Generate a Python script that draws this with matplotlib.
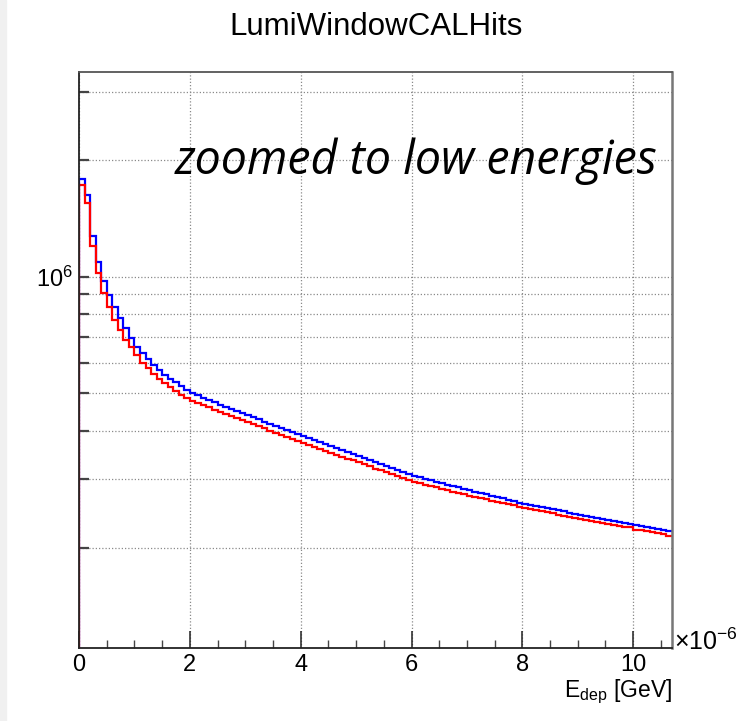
import numpy as np
import matplotlib
matplotlib.use('Agg')
import matplotlib.pyplot as plt
from matplotlib.ticker import FixedLocator, MultipleLocator, FuncFormatter, NullFormatter
from matplotlib.patches import Rectangle

plt.rcParams['font.family'] = ['Liberation Sans', 'DejaVu Sans']
plt.rcParams['mathtext.fontset'] = 'custom'
plt.rcParams['mathtext.rm'] = 'Liberation Sans'
plt.rcParams['mathtext.it'] = 'Liberation Sans:italic'

# histogram settings: 0.1e-6 GeV bins, shown up to 10.7e-6 GeV
bin_width = 0.1e-6
x_max = 10.7e-6

# hit counts per bin
blue_counts = [
    1790e3, 1620e3, 1275e3, 1093e3, 975e3, 896e3, 834e3, 784e3, 738e3, 694e3,
    660e3, 634e3, 612e3, 592e3, 574e3, 559e3, 546e3, 534e3, 522e3, 511e3,
    501e3, 494e3, 487e3, 480e3, 474e3, 468e3, 462e3, 456e3, 451e3, 445e3,
    440e3, 434e3, 429e3, 423e3, 418e3, 413e3, 408e3, 403e3, 398e3, 393e3,
    388e3, 383e3, 379e3, 374e3, 370e3, 366e3, 361e3, 357e3, 353e3, 349e3,
    345e3, 341e3, 337e3, 333e3, 329e3, 325e3, 321e3, 317e3, 313.5e3, 310e3,
    306e3, 303.5e3, 301e3, 298.5e3, 296e3, 293.5e3, 291e3, 288.5e3, 286e3, 283.5e3,
    281e3, 279e3, 276.5e3, 274.5e3, 272e3, 270e3, 268e3, 265.5e3, 263.5e3, 261e3,
    259e3, 257.5e3, 256e3, 254e3, 252.5e3, 251e3, 249.5e3, 248e3, 246e3, 244.5e3,
    243e3, 241.5e3, 240e3, 239e3, 237.5e3, 236e3, 234.5e3, 233e3, 231.5e3, 230e3,
    229e3, 227.5e3, 226e3, 225e3, 224e3, 222.5e3, 221e3,
]
red_counts = [
    1725e3, 1550e3, 1200e3, 1025e3, 907e3, 835e3, 773e3, 729e3, 688e3, 660e3,
    628e3, 600e3, 580e3, 562e3, 545e3, 532e3, 519e3, 507e3, 496e3, 487e3,
    479e3, 472e3, 466e3, 460e3, 454e3, 448e3, 442e3, 437e3, 432e3, 426e3,
    421e3, 416e3, 411e3, 406e3, 401e3, 396e3, 391e3, 386e3, 382e3, 377e3,
    372e3, 368e3, 364e3, 360e3, 356e3, 351e3, 347e3, 343e3, 339e3, 336e3,
    332e3, 328e3, 324e3, 320e3, 317e3, 313e3, 309e3, 306e3, 302e3, 299e3,
    296e3, 293.5e3, 291e3, 288.5e3, 286e3, 284e3, 281.5e3, 279e3, 277e3, 274.5e3,
    272.5e3, 270.5e3, 268.5e3, 266.5e3, 264.5e3, 262.5e3, 260.5e3, 258.5e3, 257e3, 255e3,
    253e3, 251.5e3, 250e3, 248e3, 246.5e3, 246e3, 243.5e3, 241.5e3, 240e3, 238.5e3,
    237e3, 235.5e3, 234e3, 233e3, 231.5e3, 230e3, 229e3, 227.5e3, 226.5e3, 225.5e3,
    222.5e3, 222e3, 221e3, 219.5e3, 218e3, 216.5e3, 214.5e3,
]

edges = np.arange(len(blue_counts) + 1) * bin_width
y_min, y_max = 1.102e5, 3.373e6

fig = plt.figure(figsize=(7.43, 7.21), dpi=100)
fig.patches.append(Rectangle((0, 0), 6 / 743, 1, transform=fig.transFigure,
                             color='#f0f0f0', zorder=0))
ax = fig.add_axes([79 / 743, 73 / 721, 593 / 743, 576 / 721])

ax.stairs(blue_counts, edges, baseline=None, color='#0000ff', lw=1.6)
ax.stairs(red_counts, edges, baseline=None, color='#ff0000', lw=1.6)
# left edge of the histograms (ROOT draws it down to the frame)
ax.plot([edges[0], edges[0]], [y_min, blue_counts[0]], color='#0000ff', lw=1.6)
ax.plot([edges[0], edges[0]], [y_min, red_counts[0]], color='#ff0000', lw=1.6)

ax.set_yscale('log')
ax.set_xlim(0, x_max)
ax.set_ylim(y_min, y_max)

# x axis in units of 1e-6
ax.xaxis.set_major_locator(MultipleLocator(2e-6))
ax.xaxis.set_minor_locator(MultipleLocator(0.5e-6))
ax.xaxis.set_major_formatter(FuncFormatter(lambda v, p: f'{v * 1e6:.0f}'))
ax.tick_params(axis='x', which='major', direction='in', length=12, width=1.1,
               labelsize=17, pad=4, color='#222222', top=False)
ax.tick_params(axis='x', which='minor', direction='in', length=6, width=1.0,
               color='#444444', top=False)

# y axis: ticks at 2..9e5, 1e6, 2e6, 3e6, only 10^6 labelled
y_ticks = [2e5, 3e5, 4e5, 5e5, 6e5, 7e5, 8e5, 9e5, 1e6, 2e6, 3e6]
ax.yaxis.set_major_locator(FixedLocator(y_ticks))
ax.yaxis.set_minor_formatter(NullFormatter())
ax.yaxis.set_major_formatter(FuncFormatter(
    lambda v, p: r'$\mathregular{10^{6}}$' if abs(v - 1e6) < 1 else ''))
ax.yaxis.set_minor_locator(FixedLocator([]))
ax.tick_params(axis='y', which='major', direction='in', length=7, width=1.6,
               labelsize=17, pad=4, color='#444444', right=False)

ax.grid(True, which='major', color='#8a8a8a', lw=0.9, linestyle=(0, (1, 1.6)))
ax.set_axisbelow(True)

ax.spines['left'].set_color('#222222')
ax.spines['bottom'].set_color('#222222')
ax.spines['left'].set_linewidth(1.3)
ax.spines['bottom'].set_linewidth(1.3)
ax.spines['top'].set_color('#555555')
ax.spines['top'].set_linewidth(1.3)
ax.spines['right'].set_color('#777777')
ax.spines['right'].set_linewidth(1.8)

ax.text(1.003, -0.004, r'$\mathregular{\times10^{-6}}$', transform=ax.transAxes,
        ha='left', va='baseline', fontsize=18)
fig.text(672 / 743, (721 - 697) / 721, r'$\mathregular{E_{dep}}$ [GeV]',
         ha='right', va='baseline', fontsize=16.5)
fig.text(376 / 743, (721 - 35) / 721, 'LumiWindowCALHits',
         ha='center', va='baseline', fontsize=22.5)
fig.text(175 / 743, (721 - 174) / 721, 'zoomed to low energies',
         ha='left', va='baseline', fontsize=33.5, style='italic',
         family=['Open Sans', 'DejaVu Sans'])

fig.savefig('out.png', dpi=100)
